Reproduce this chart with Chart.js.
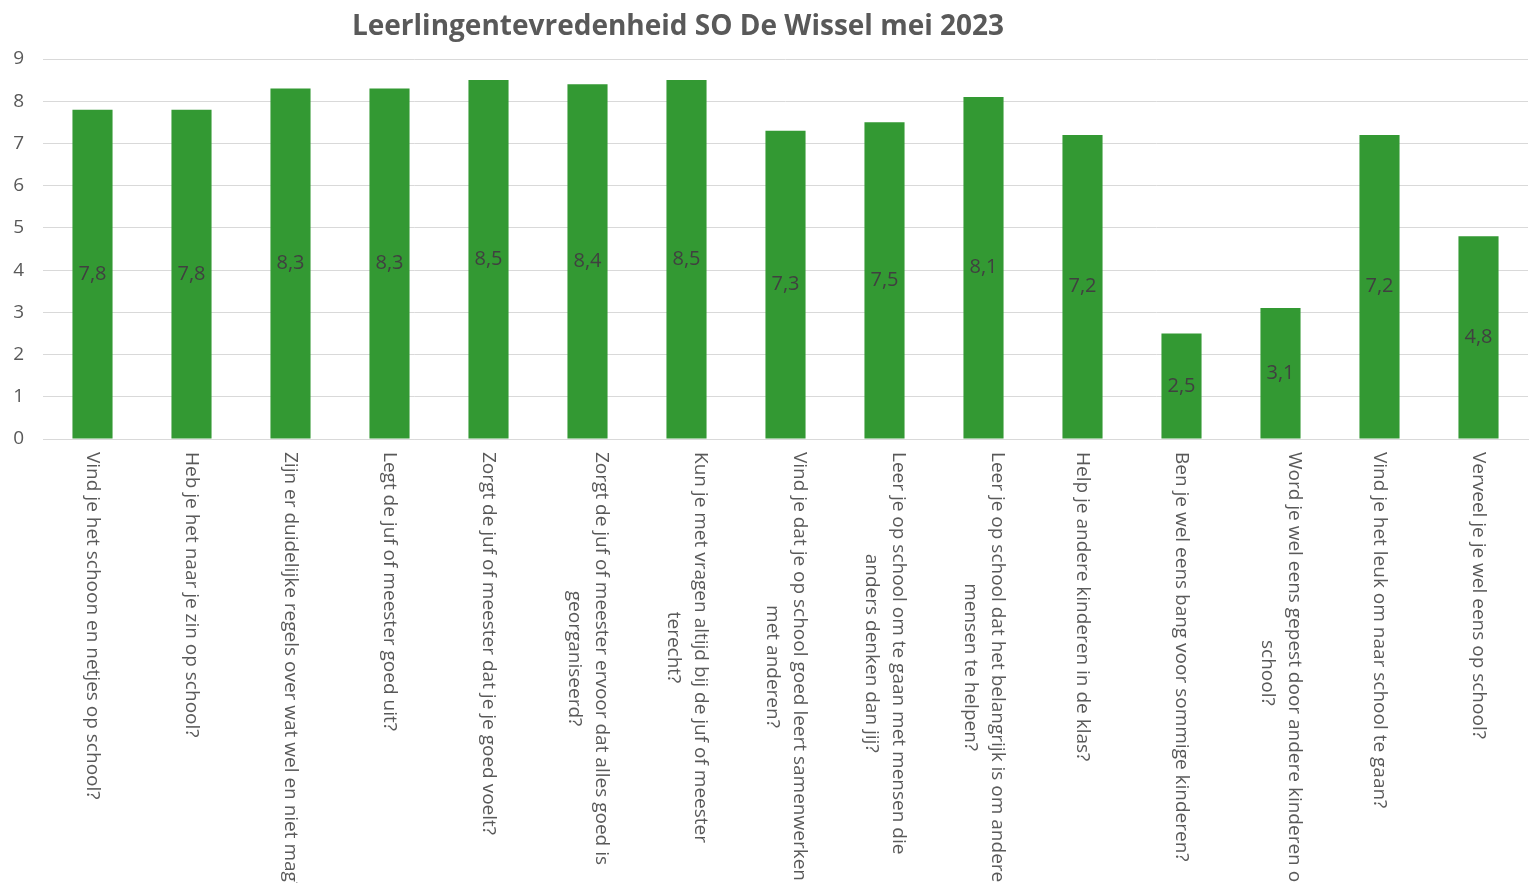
<!DOCTYPE html>
<html>
<head>
<meta charset="utf-8">
<script src="https://cdn.jsdelivr.net/npm/chart.js@4"></script>
<style>
  html, body { margin: 0; padding: 0; background: #ffffff; }
  #wrap { width: 1531px; height: 883px; }
</style>
</head>
<body>
<div id="wrap"><canvas id="plot"></canvas></div>
<script>
const title = "Leerlingentevredenheid SO De Wissel mei 2023";
const questions = [
    ["Vind je het schoon en netjes op school?"],
    ["Heb je het naar je zin op school?"],
    ["Zijn er duidelijke regels over wat wel en niet mag?"],
    ["Legt de juf of meester goed uit?"],
    ["Zorgt de juf of meester dat je je goed voelt?"],
    ["Zorgt de juf of meester ervoor dat alles goed is", "georganiseerd?"],
    ["Kun je met vragen altijd bij de juf of meester", "terecht?"],
    ["Vind je dat je op school goed leert samenwerken", "met anderen?"],
    ["Leer je op school om te gaan met mensen die", "anders denken dan jij?"],
    ["Leer je op school dat het belangrijk is om andere", "mensen te helpen?"],
    ["Help je andere kinderen in de klas?"],
    ["Ben je wel eens bang voor sommige kinderen?"],
    ["Word je wel eens gepest door andere kinderen op", "school?"],
    ["Vind je het leuk om naar school te gaan?"],
    ["Verveel je je wel eens op school?"]
];
const scores = [7.8, 7.8, 8.3, 8.3, 8.5, 8.4, 8.5, 7.3, 7.5, 8.1, 7.2, 2.5, 3.1, 7.2, 4.8];
const yTicks = [0, 1, 2, 3, 4, 5, 6, 7, 8, 9];

const FONT = "'Open Sans', 'Noto Sans', sans-serif";

// title, data labels and the downward-reading category labels
const extraText = {
    id: "extraText",
    afterDatasetsDraw(chart) {
        const ctx = chart.ctx;
        const x = chart.scales.x;
        const meta = chart.getDatasetMeta(0);
        ctx.save();
        // value labels in the middle of each bar
        ctx.fillStyle = "#404040";
        ctx.font = "20px " + FONT;
        ctx.textAlign = "center";
        ctx.textBaseline = "middle";
        meta.data.forEach((bar, i) => {
            const txt = scores[i].toFixed(1).replace(".", ",");
            ctx.fillText(txt, bar.x, (bar.y + bar.base) / 2);
        });
        // title
        ctx.fillStyle = "#595959";
        ctx.font = "bold 28px " + FONT;
        ctx.textBaseline = "alphabetic";
        ctx.fillText(title, 678, 35);
        // category labels, rotated clockwise
        ctx.font = "19px " + FONT;
        ctx.fillStyle = "#595959";
        ctx.textAlign = "left";
        ctx.textBaseline = "middle";
        const lh = 27;
        questions.forEach((lines, i) => {
            const cx = x.getPixelForTick(i);
            const maxW = Math.max(...lines.map(l => ctx.measureText(l).width));
            ctx.save();
            ctx.translate(cx, 452);
            ctx.rotate(Math.PI / 2);
            lines.forEach((l, k) => {
                const w = ctx.measureText(l).width;
                const off = (k - (lines.length - 1) / 2) * lh;
                ctx.fillText(l, (maxW - w) / 2, off);
            });
            ctx.restore();
        });
        ctx.restore();
    }
};

new Chart(document.getElementById("plot"), {
    type: "bar",
    data: {
        labels: questions,
        datasets: [
            {
                data: scores,
                backgroundColor: "#339933",
                borderWidth: 0,
                barPercentage: 0.405,
                categoryPercentage: 1.0
            }
        ]
    },
    options: {
        responsive: true,
        maintainAspectRatio: false,
        animation: false,
        layout: { padding: { top: 59, right: 3, bottom: 444, left: 0 } },
        plugins: {
            legend: { display: false },
            title: { display: false },
            tooltip: { enabled: false }
        },
        scales: {
            x: {
                grid: { display: false, drawTicks: false },
                border: { display: true, color: "#d9d9d9", width: 1 },
                ticks: { display: false }
            },
            y: {
                min: 0,
                max: 9,
                afterFit(scale) { scale.width = 43; },
                afterBuildTicks(scale) { scale.ticks = yTicks.map(v => ({ value: v })); },
                grid: { color: "#d9d9d9", lineWidth: 1, drawTicks: false },
                border: { display: false },
                ticks: {
                    padding: 19,
                    color: "#595959",
                    font: { family: FONT, size: 19 }
                }
            }
        }
    },
    plugins: [extraText]
});
</script>
</body>
</html>
